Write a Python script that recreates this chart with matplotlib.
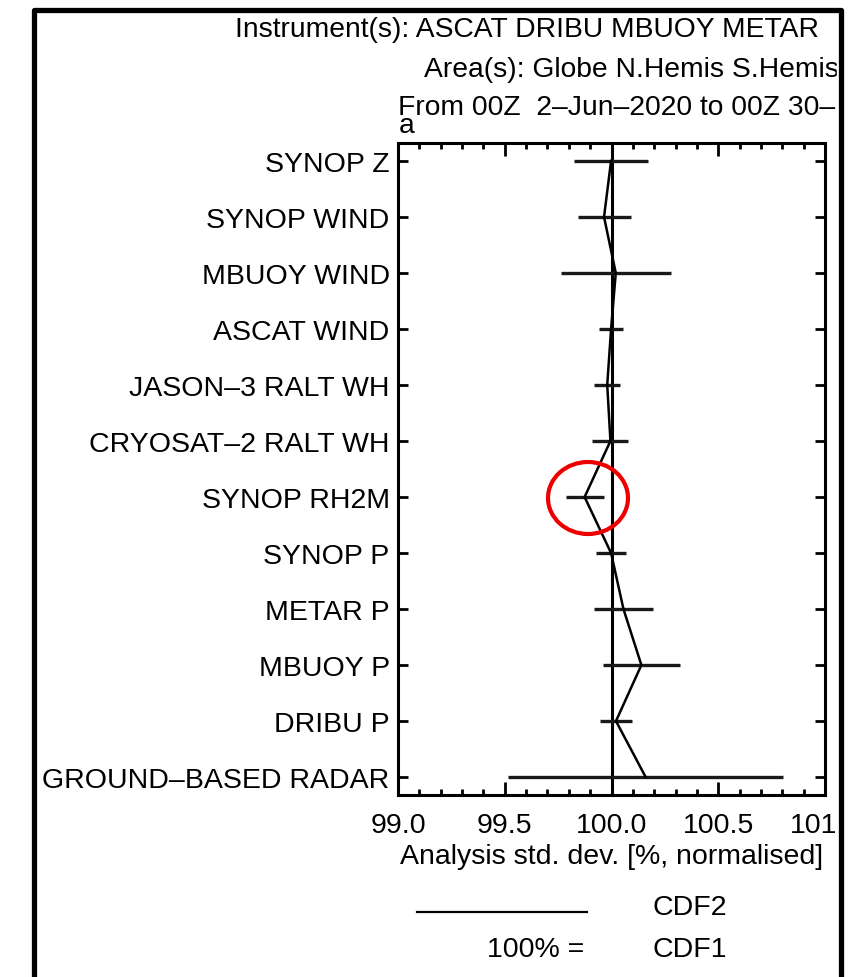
import numpy as np
import matplotlib
matplotlib.use('Agg')
import matplotlib.pyplot as plt
from matplotlib.patches import Ellipse, Rectangle
from matplotlib.lines import Line2D
from matplotlib.ticker import MultipleLocator

# data (normalised analysis std. dev., % of CDF1)
categories = ['SYNOP Z', 'SYNOP WIND', 'MBUOY WIND', 'ASCAT WIND',
              'JASON\u20133 RALT WH', 'CRYOSAT\u20132 RALT WH', 'SYNOP RH2M',
              'SYNOP P', 'METAR P', 'MBUOY P', 'DRIBU P',
              'GROUND\u2013BASED RADAR']
values = [99.998, 99.965, 100.02, 99.998, 99.98, 99.995, 99.874,
          99.998, 100.056, 100.14, 100.021, 100.16]
errors = [0.175, 0.124, 0.257, 0.058, 0.061, 0.084, 0.089,
          0.072, 0.14, 0.182, 0.077, 0.643]
xticks = [99.0, 99.5, 100.0, 100.5, 101.0]

# header as far as it is visible inside the frame
header = ['Instrument(s): ASCAT DRIBU MBUOY METAR',
          'Area(s): Globe N.Hemis S.Hemis',
          'From 00Z  2\u2013Jun\u20132020 to 00Z 30\u2013']

W, H = 859, 978


def fx(px):
    return px / W


def fy(py):
    return 1 - py / H


plt.rcParams['font.family'] = ['Liberation Sans', 'DejaVu Sans']
FS = 20.5

fig = plt.figure(figsize=(W / 100, H / 100), dpi=100)
fig.patch.set_facecolor('white')
ax = fig.add_axes([fx(398), fy(796), (825 - 398) / W, (796 - 144) / H])

ypos = np.arange(len(categories))
ax.axvline(100.0, color='black', lw=2.2, zorder=1)
ax.errorbar(values, ypos, xerr=errors, fmt='none', ecolor='#1a1a1a',
            elinewidth=2.4, capsize=0, zorder=2)
ax.plot(values, ypos, color='black', lw=1.8, zorder=3)

ax.set_xlim(99.0, 101.0)
ax.set_ylim(11.32, -0.32)
ax.set_yticks(ypos)
ax.set_yticklabels(categories, fontsize=FS)
ax.set_xticks(xticks)
ax.set_xticklabels(['%.1f' % t for t in xticks], fontsize=FS)
ax.xaxis.set_minor_locator(MultipleLocator(0.1))
ax.tick_params(axis='x', which='both', direction='in', top=True,
               bottom=True, width=2, pad=12)
ax.tick_params(axis='x', which='major', length=9.5)
ax.tick_params(axis='x', which='minor', length=4.5)
ax.tick_params(axis='y', direction='in', left=True, right=True,
               length=7, width=2, pad=6)
for s in ax.spines.values():
    s.set_linewidth(2.2)
ax.set_xlabel('Analysis std. dev. [%, normalised]', fontsize=FS, labelpad=4)

# header lines
fig.text(fx(235), fy(37), header[0], fontsize=20.3, va='baseline')
fig.text(fx(424), fy(77), header[1], fontsize=20.3, va='baseline')
fig.text(fx(398), fy(115), header[2], fontsize=20.3, va='baseline')
fig.text(fx(399), fy(133), 'a', fontsize=20.3, va='baseline')

# legend
fig.add_artist(Line2D([fx(417), fx(587)], [fy(913), fy(913)],
                      color='black', lw=1.6))
fig.text(fx(652), fy(915), 'CDF2', fontsize=FS, va='baseline')
fig.text(fx(584), fy(957), '100% =', fontsize=FS, va='baseline', ha='right')
fig.text(fx(652), fy(957), 'CDF1', fontsize=FS, va='baseline')

# crop on the right and outer frame
fig.add_artist(Rectangle((fx(837), 0), 1 - fx(837), 1,
                         transform=fig.transFigure, color='white', zorder=10))
fig.add_artist(Line2D([fx(33.5), fx(33.5), fx(840.5), fx(840.5)],
                      [fy(990), fy(10.5), fy(10.5), fy(990)],
                      color='black', lw=3.8, solid_joinstyle='round',
                      zorder=11))

# highlight
fig.add_artist(Ellipse((fx(588), fy(499)), 80 / W, 72 / H,
                       transform=fig.transFigure, fill=False,
                       edgecolor='#ee0000', lw=3, zorder=12))

fig.savefig('out.png', dpi=100)
